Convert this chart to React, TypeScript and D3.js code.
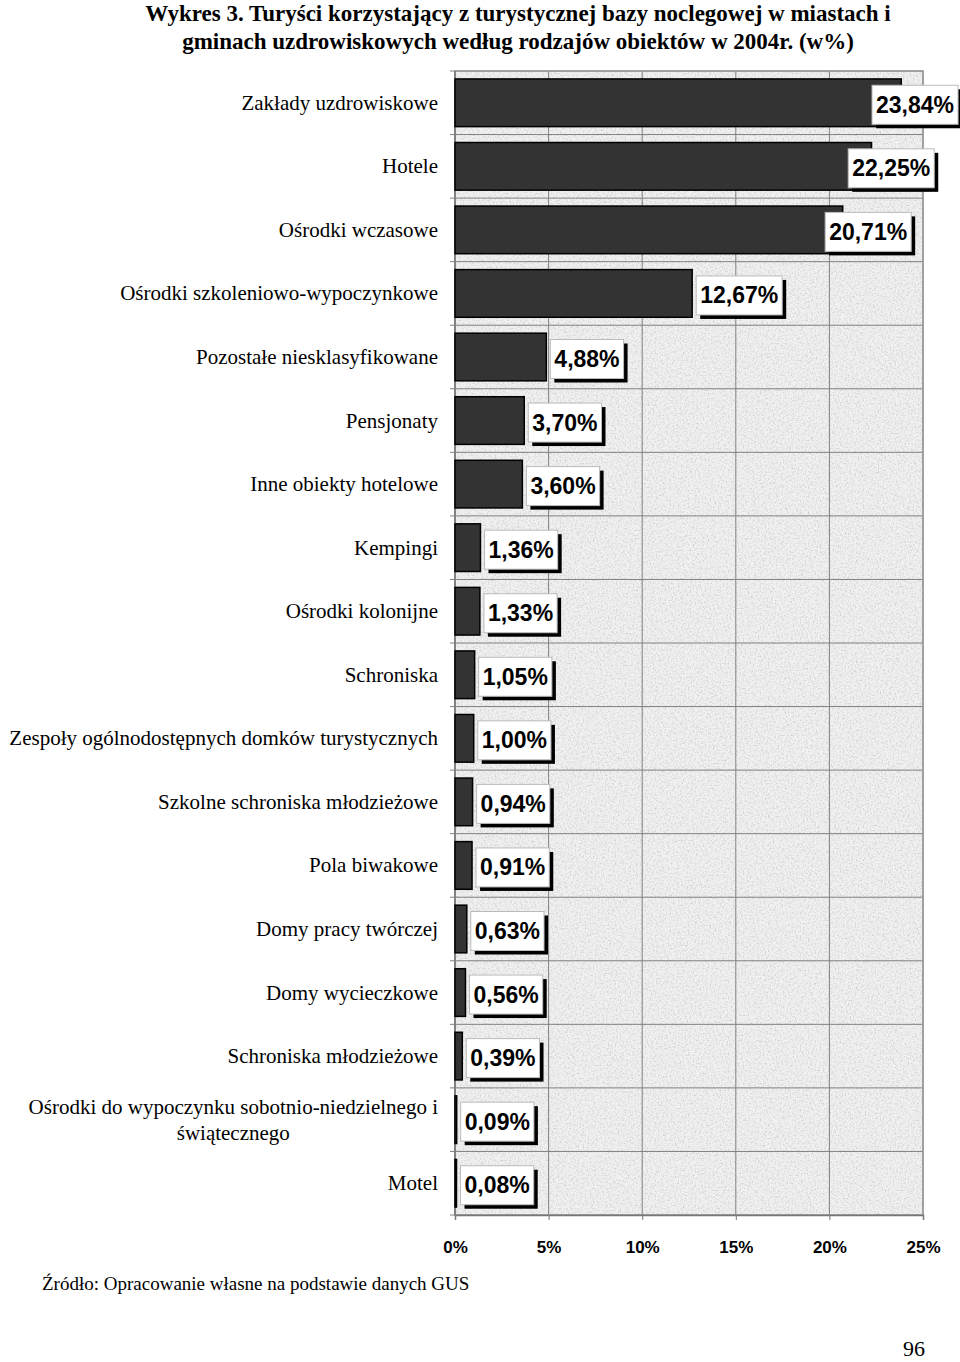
import * as React from 'react';
import * as d3 from 'd3';

const categories = [
  'Zakłady uzdrowiskowe',
  'Hotele',
  'Ośrodki wczasowe',
  'Ośrodki szkoleniowo-wypoczynkowe',
  'Pozostałe niesklasyfikowane',
  'Pensjonaty',
  'Inne obiekty hotelowe',
  'Kempingi',
  'Ośrodki kolonijne',
  'Schroniska',
  'Zespoły ogólnodostępnych domków turystycznych',
  'Szkolne schroniska młodzieżowe',
  'Pola biwakowe',
  'Domy pracy twórczej',
  'Domy wycieczkowe',
  'Schroniska młodzieżowe',
  'Ośrodki do wypoczynku sobotnio-niedzielnego i|świątecznego',
  'Motel',
];
const values = [23.84, 22.25, 20.71, 12.67, 4.88, 3.7, 3.6, 1.36, 1.33, 1.05, 1.0, 0.94, 0.91, 0.63, 0.56, 0.39, 0.09, 0.08];
const xTicks = [0, 5, 10, 15, 20, 25];
const titleLines = [
  'Wykres 3. Turyści korzystający z turystycznej bazy noclegowej w miastach i',
  'gminach uzdrowiskowych według rodzajów obiektów w 2004r. (w%)',
];
const sourceText = 'Źródło: Opracowanie własne na podstawie danych GUS';
const pageNo = '96';

export default function App() {
  const ref = React.useRef<SVGSVGElement>(null);

  React.useEffect(() => {
    const W = 960;
    const H = 1362;
    const left = 455, right = 923, top = 71, bottom = 1215;
    const svg = d3.select(ref.current).attr('width', W).attr('height', H);
    svg.selectAll('*').remove();

    const serif = "'Liberation Serif', 'Times New Roman', serif";
    const sans = "'Liberation Sans', Arial, sans-serif";

    // title
    svg.append('g').selectAll('text').data(titleLines).enter().append('text')
      .attr('x', 518).attr('y', (d, i) => 21 + i * 28)
      .attr('text-anchor', 'middle')
      .attr('font-family', serif).attr('font-weight', 'bold').attr('font-size', 23)
      .text(d => d);

    const x = d3.scaleLinear().domain([0, 25]).range([left, right]);
    const y = d3.scaleBand().domain(categories).range([top, bottom]).paddingInner(0.25).paddingOuter(0.125);
    const step = y.step();

    // background texture
    const defs = svg.append('defs');
    const f = defs.append('filter').attr('id', 'noise').attr('x', 0).attr('y', 0).attr('width', 1).attr('height', 1);
    f.append('feTurbulence').attr('type', 'fractalNoise').attr('baseFrequency', 0.6).attr('numOctaves', 3).attr('seed', 4);
    f.append('feColorMatrix').attr('type', 'matrix')
      .attr('values', '0 0 0 0 0.62  0 0 0 0 0.62  0 0 0 0 0.62  2.4 0 0 0 -1.05');
    f.append('feComposite').attr('in2', 'SourceGraphic').attr('operator', 'over');

    const g = svg.append('g');
    g.append('rect').attr('x', left).attr('y', top).attr('width', right - left).attr('height', bottom - top)
      .attr('fill', '#f1f1f1').attr('filter', 'url(#noise)');

    // grid
    g.selectAll('.vg').data(xTicks).enter().append('line')
      .attr('x1', d => x(d)).attr('x2', d => x(d)).attr('y1', top).attr('y2', bottom)
      .attr('stroke', '#808080').attr('stroke-width', 1);
    const bounds = d3.range(categories.length + 1).map(i => top + i * step);
    g.selectAll('.hg').data(bounds).enter().append('line')
      .attr('x1', left - 5).attr('x2', right).attr('y1', d => d).attr('y2', d => d)
      .attr('stroke', '#808080').attr('stroke-width', 1);
    g.append('rect').attr('x', left).attr('y', top).attr('width', right - left).attr('height', bottom - top)
      .attr('fill', 'none').attr('stroke', '#999').attr('stroke-width', 1.5);

    // x axis
    const ax = g.append('g').attr('transform', `translate(0,${bottom})`)
      .call(d3.axisBottom(x).tickValues(xTicks).tickSize(5).tickFormat(d => `${d}%`));
    ax.select('.domain').attr('stroke', '#777').attr('stroke-width', 1.5);
    ax.selectAll('.tick line').attr('stroke', '#777');
    ax.selectAll('.tick text').attr('y', 26).attr('font-family', sans).attr('font-weight', 'bold')
      .attr('font-size', 17).attr('fill', '#000');
    g.append('line').attr('x1', left).attr('x2', left).attr('y1', top).attr('y2', bottom)
      .attr('stroke', '#777').attr('stroke-width', 1.5);

    // category labels
    const lab = svg.append('g');
    categories.forEach(c => {
      const cy = (y(c) as number) + y.bandwidth() / 2;
      const lines = c.split('|');
      if (lines.length === 1) {
        lab.append('text').attr('x', 438).attr('y', cy + 7).attr('text-anchor', 'end')
          .attr('font-family', serif).attr('font-size', 21).text(c);
      } else {
        const t0 = lab.append('text').attr('x', 438).attr('y', cy - 6).attr('text-anchor', 'end')
          .attr('font-family', serif).attr('font-size', 21).text(lines[0]);
        const w = (t0.node() as SVGTextElement).getComputedTextLength();
        lab.append('text').attr('x', 438 - w / 2).attr('y', cy + 20).attr('text-anchor', 'middle')
          .attr('font-family', serif).attr('font-size', 21).text(lines[1]);
      }
    });

    // bars
    g.selectAll('.bar').data(values).enter().append('rect')
      .attr('x', left).attr('y', (d, i) => y(categories[i]) as number)
      .attr('width', d => Math.max(x(d) - left, 1)).attr('height', y.bandwidth())
      .attr('fill', '#333333').attr('stroke', '#000').attr('stroke-width', 1.5);

    // value labels
    const vl = svg.append('g');
    values.forEach((v, i) => {
      const cy = (y(categories[i]) as number) + y.bandwidth() / 2;
      const end = x(v);
      const txt = v.toFixed(2).replace('.', ',') + '%';
      const t = vl.append('text').attr('font-family', sans).attr('font-weight', 'bold')
        .attr('font-size', 23).text(txt);
      const tw = (t.node() as SVGTextElement).getComputedTextLength();
      const bw = tw + 8, bh = 39;
      const bx = end + 4 - Math.max(0, (end - 735) * 0.2);
      const by = cy - bh / 2 + 2;
      vl.insert('rect', 'text').attr('x', bx + 4).attr('y', by + 4).attr('width', bw).attr('height', bh).attr('fill', '#000');
      vl.insert('rect', 'text').attr('x', bx).attr('y', by).attr('width', bw).attr('height', bh)
        .attr('fill', '#fff').attr('stroke', '#bbb').attr('stroke-width', 1);
      t.attr('x', bx + bw / 2).attr('y', by + bh / 2 + 8).attr('text-anchor', 'middle');
    });

    // source + page number
    svg.append('text').attr('x', 42).attr('y', 1290).attr('font-family', serif).attr('font-size', 19).text(sourceText);
    svg.append('text').attr('x', 925).attr('y', 1356).attr('text-anchor', 'end')
      .attr('font-family', serif).attr('font-size', 22).text(pageNo);
  }, []);

  return <svg ref={ref} style={{ position: 'absolute', left: 0, top: 0, display: 'block' }}></svg>;
}
